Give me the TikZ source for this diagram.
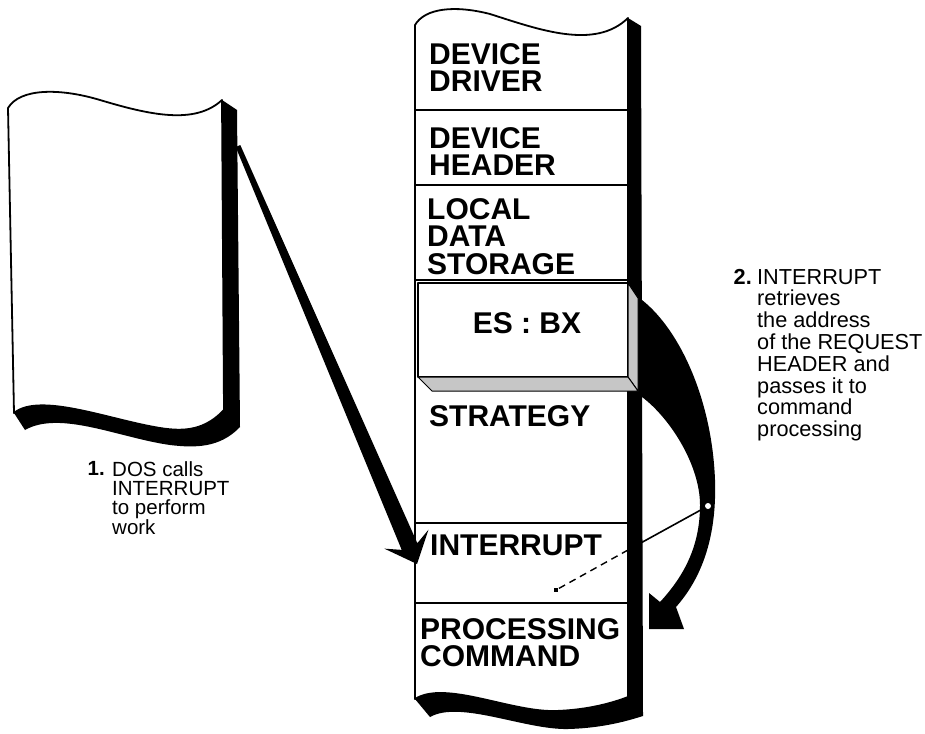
\documentclass[tikz,border=0pt]{standalone}
\usepackage{fontspec}
\setmainfont{Liberation Sans}
\usetikzlibrary{calc,positioning}

\begin{document}
\begin{tikzpicture}[x=1pt,y=-1pt,line join=round]
\tikzset{edge/.style={line width=1.8pt},
  boxtext/.style={anchor=north west,inner sep=0pt,align=left,font=\bfseries\fontsize{30}{27.5}\selectfont},
  notea/.style={anchor=north west,inner sep=0pt,align=left,font=\fontsize{20.5}{19}\selectfont},
  noteb/.style={anchor=north west,inner sep=0pt,align=left,font=\fontsize{21.7}{21.8}\selectfont},
  shade/.style={line width=1pt,fill=gray!45}}
\useasboundingbox (0,0) rectangle (925,733);

% page of DOS
\fill (222,100) -- (237,110) -- (240,427) .. controls (220,448) and (195,448) .. (170,445)
  .. controls (120,438) and (60,410) .. (25,430) -- (14,413)
  .. controls (40,392) and (110,420) .. (160,428) .. controls (185,432) and (205,430) .. (224,410) -- cycle;
\draw[edge,fill=white] (8,108) .. controls (20,88) and (60,88) .. (100,100)
  .. controls (150,115) and (195,125) .. (222,100) -- (224,410)
  .. controls (205,430) and (185,432) .. (160,428) .. controls (110,420) and (40,392) .. (14,413) -- cycle;

% driver column
\fill (628,18) -- (641,26) -- (643,716) .. controls (630,720) and (605,728) .. (568,729)
  .. controls (525,730) and (460,700) .. (430,717) -- (415,699)
  .. controls (445,680) and (510,712) .. (555,711) .. controls (590,710) and (615,702) .. (628,697) -- cycle;
\draw[edge,fill=white] (415,25) .. controls (425,8) and (455,5) .. (490,14)
  .. controls (540,30) and (595,50) .. (628,18) -- (628,697)
  .. controls (615,702) and (590,710) .. (555,711) .. controls (510,712) and (445,680) .. (415,699) -- cycle;
\draw[edge] (415,110) -- (628,110);
\draw[edge] (415,185) -- (628,185);
\draw[edge] (415,280) -- (628,280);
\draw[edge] (415,523) -- (628,523);
\draw[edge] (415,603) -- (628,603);

% ES:BX block
\draw[edge,fill=white] (418,283) rectangle (628,377);
\draw[shade] (628,283) -- (638,298) -- (638,391) -- (628,377) -- cycle;
\draw[shade] (418,377) -- (628,377) -- (638,391) -- (432,391) -- cycle;

% arrow 1
\coordinate (a1s) at (238,146);
\coordinate (a1t) at (417,564);
\coordinate (a1b) at ($(a1t)!19pt!(a1s)$);
\coordinate (a1k) at ($(a1t)!27pt!(a1s)$);
\fill ($(a1s)!2.5pt!90:(a1t)$) -- ($(a1b)!8.5pt!90:(a1t)$) -- ($(a1k)!24pt!90:(a1t)$) -- (a1t)
  -- ($(a1k)!24pt!-90:(a1t)$) -- ($(a1b)!8.5pt!-90:(a1t)$) -- ($(a1s)!2.5pt!-90:(a1t)$) -- cycle;

% arrow 2
\fill (642,300) .. controls (680,330) and (712,400) .. (715,480)
  .. controls (717,540) and (700,580) .. (676,607) -- (684,629) -- (649,629) -- (649,593) -- (660,602)
  .. controls (685,575) and (700,545) .. (700,505) .. controls (700,465) and (670,418) .. (642,397) -- cycle;

\node[circle,fill=white,inner sep=0pt,minimum size=6pt] (dot) at (708,506) {};
\coordinate (edgept) at (628,550);
\node[fill,inner sep=0pt,minimum size=4pt] (tail) at (556,590) {};
\draw[line width=1.6pt] (dot) -- (edgept);
\draw[line width=1.4pt,dash pattern=on 7pt off 5pt] (edgept) -- (tail);

\node[boxtext] (drv) at (429,43) {DEVICE\\DRIVER};
\node[boxtext] (hdr) at (429,127) {DEVICE\\HEADER};
\node[boxtext] (lds) at (427,198) {LOCAL\\DATA\\STORAGE};
\node[boxtext,anchor=center] (esbx) at (527,323) {ES : BX};
\node[boxtext] (strat) at (429,405) {STRATEGY};
\node[boxtext] (intr) at (430,535) {INTERRUPT};
\node[boxtext] (proc) at (420,618) {PROCESSING\\COMMAND};

\node[notea] (txt1) at (112,461) {DOS calls\\INTERRUPT\\to perform\\work};
\node[notea,left=7pt of txt1.north west,anchor=north east,font=\bfseries\fontsize{20.5}{19}\selectfont] (num1) {1.};
\node[noteb] (txt2) at (757,269) {INTERRUPT\\retrieves\\the address\\of the REQUEST\\HEADER and\\passes it to\\command\\processing};
\node[noteb,left=5pt of txt2.north west,anchor=north east,font=\bfseries\fontsize{21.7}{21.8}\selectfont] (num2) {2.};

\end{tikzpicture}
\end{document}
